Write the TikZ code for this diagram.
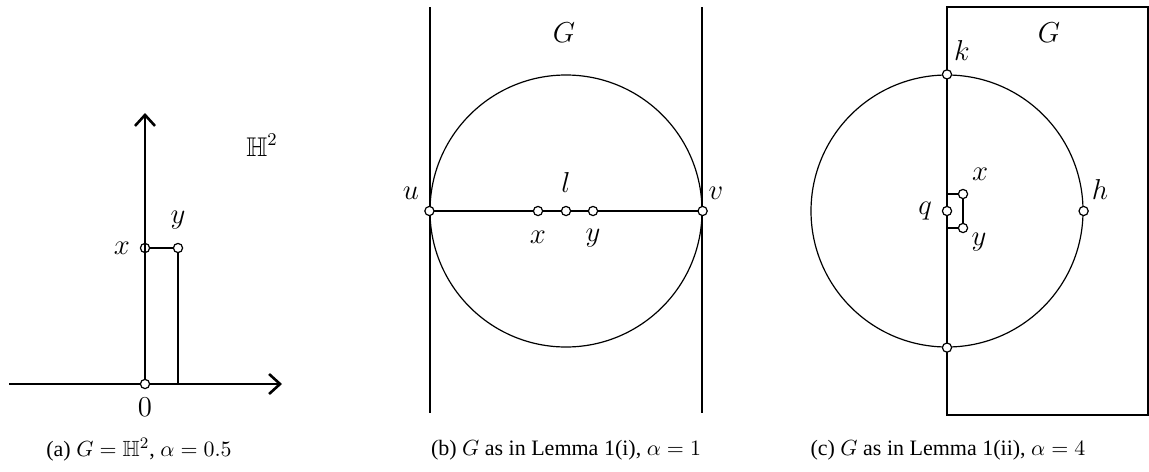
\documentclass[tikz,border=0pt]{standalone}
\usepackage{amssymb}
\usepackage{fontspec}
\setmainfont{Liberation Serif}
\usetikzlibrary{arrows.meta}
\begin{document}
\begin{tikzpicture}[x=0.5pt,y=-0.5pt, line width=0.6pt,
  pt/.style={circle,draw,fill=white,inner sep=0pt,minimum size=4.6pt,line width=0.6pt},
  lbl/.style={font=\fontsize{13.5}{15}\selectfont, inner sep=0pt},
  captext/.style={font=\fontsize{11}{13}\selectfont, inner sep=0pt},
  big/.style={circle,draw,inner sep=0pt,minimum size=136pt},
  axis/.style={-{Straight Barb[length=5.5pt,width=10pt,line width=1.3pt]}}]
\useasboundingbox (0,0) rectangle (1149,471);

% ---------- panel (a)
\coordinate (xl) at (9,384);
\coordinate (xr) at (282,384);
\coordinate (yt) at (145,113);
\coordinate (yb) at (178,384);
\draw[axis] (xl) -- (xr);
\node[pt] (O) at (145,384) {};
\node[pt] (Xa) at (145,248) {};
\node[pt] (Ya) at (178,248) {};
\draw[axis] (O) -- (yt);
\draw (O) -- (Xa);
\draw (Xa) -- (Ya);
\draw (Ya) -- (yb);
\node[lbl] (lXa) at (122,248) {$x$};
\node[lbl] (lYa) at (178,220) {$y$};
\node[lbl] (lH) at (262,145) {$\mathbb{H}^2$};
\node[lbl] (l0) at (145,407) {$0$};
\node[captext] (ca) at (139,450) {(a) $G=\mathbb{H}^2$, $\alpha=0.5$};

% ---------- panel (b)
\coordinate (b1t) at (430,7);
\coordinate (b1b) at (430,413);
\coordinate (b2t) at (702,7);
\coordinate (b2b) at (702,413);
\draw (b1t) -- (b1b);
\draw (b2t) -- (b2b);
\node[big] (Cb) at (566,211) {};
\draw (Cb.west) -- (Cb.east);
\node[pt] (U) at (Cb.west) {};
\node[pt] (V) at (Cb.east) {};
\node[pt] (Xb) at (538,211) {};
\node[pt] (L) at (566,211) {};
\node[pt] (Yb) at (593,211) {};
\node[lbl] (lU) at (411,193) {$u$};
\node[lbl] (lV) at (716,193) {$v$};
\node[lbl] (lL) at (566,182) {$l$};
\node[lbl] (lXb) at (538,237) {$x$};
\node[lbl] (lYb) at (593,238) {$y$};
\node[lbl] (lGb) at (564,33) {$G$};
\node[captext] (cb) at (566,450) {(b) $G$ as in Lemma 1(i), $\alpha=1$};

% ---------- panel (c)
\coordinate (r1) at (947,7);
\coordinate (r2) at (1148,7);
\coordinate (r3) at (1148,415);
\coordinate (r4) at (947,415);
\draw (r1) -- (r2) -- (r3) -- (r4) -- cycle;
\node[big] (Cc) at (947,211) {};
\coordinate (qx) at (947,194);
\coordinate (qy) at (947,228);
\node[pt] (Xc) at (963,194) {};
\node[pt] (Yc) at (963,228) {};
\draw (qx) -- (Xc);
\draw (Xc) -- (Yc);
\draw (qy) -- (Yc);
\node[pt] (K) at (Cc.north) {};
\node[pt] (B) at (Cc.south) {};
\node[pt] (Q) at (947,211) {};
\node[pt] (H) at (Cc.east) {};
\node[lbl] (lK) at (962,50) {$k$};
\node[lbl] (lGc) at (1049,33) {$G$};
\node[lbl] (lXc) at (980,174) {$x$};
\node[lbl] (lQ) at (925,211) {$q$};
\node[lbl] (lYc) at (979,242) {$y$};
\node[lbl] (lH2) at (1100,189) {$h$};
\node[captext] (cc) at (948,450) {(c) $G$ as in Lemma 1(ii), $\alpha=4$};
\end{tikzpicture}
\end{document}
